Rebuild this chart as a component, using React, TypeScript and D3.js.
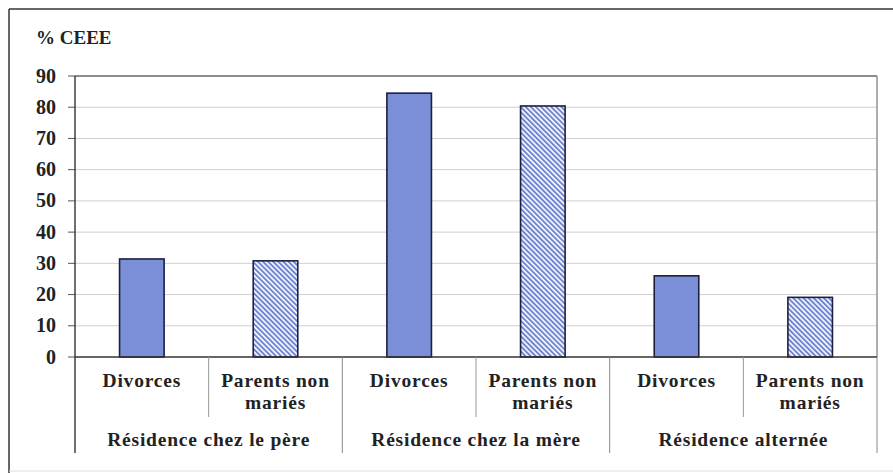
import React from "react";
import * as d3 from "d3";

const groups = ["Résidence chez le père", "Résidence chez la mère", "Résidence alternée"];
const series = ["Divorces", "Parents non mariés"];
const seriesLines = [["Divorces"], ["Parents non", "mariés"]];
const values = [
  [31.4, 84.5, 26.0],
  [30.8, 80.4, 19.1],
];
const yTicks = [0, 10, 20, 30, 40, 50, 60, 70, 80, 90];
const yTitle = "% CEEE";

const W = 893, H = 473;
const L = 75, R = 877, T = 76, B = 357;
const FONT = "'Liberation Serif', 'Times New Roman', serif";
const TXT = "#222";

export default function App() {
  const y = d3.scaleLinear().domain([0, 90]).range([B, T]);
  const cats = groups.flatMap((g, gi) => series.map((s, si) => `${gi}-${si}`));
  const x = d3.scaleBand().domain(cats).range([L, R]).paddingInner(0).paddingOuter(0);
  const gx = d3.scaleBand().domain(groups).range([L, R]);
  const bw = x.bandwidth() / 3;

  return (
    <svg width={W} height={H} style={{ position: "absolute", left: 0, top: 0, background: "#fff" }}>
      <defs>
        <pattern id="hatch" width={3.6} height={10} patternUnits="userSpaceOnUse" patternTransform="rotate(-45)">
          <rect width={3.6} height={10} fill="#fff" />
          <rect width={2} height={10} fill="#6f84d2" />
        </pattern>
      </defs>
      <rect x={0} y={0} width={W} height={H} fill="#fff" />
      {/* outer frame */}
      <line x1={9} y1={9} x2={W} y2={9} stroke="#333" strokeWidth={1.5} />
      <line x1={9} y1={9} x2={9} y2={H} stroke="#333" strokeWidth={1.5} />
      <line x1={9} y1={471} x2={W} y2={471} stroke="#ddd" strokeWidth={1} />

      <text x={36} y={44} fontFamily={FONT} fontWeight="bold" fontSize={19} fill={TXT}>{yTitle}</text>

      {/* gridlines */}
      {yTicks.filter(t => t > 0 && t < 90).map(t => (
        <line key={t} x1={L} x2={R} y1={y(t)} y2={y(t)} stroke="#cfcfcf" strokeWidth={1} />
      ))}
      {/* plot border top/right */}
      <line x1={L} x2={R} y1={y(90)} y2={y(90)} stroke="#666" strokeWidth={1.3} />
      <line x1={R} x2={R} y1={y(90)} y2={B} stroke="#777" strokeWidth={1.2} />

      {/* ticks and labels */}
      {yTicks.map(t => (
        <g key={t}>
          <line x1={68} x2={L} y1={y(t)} y2={y(t)} stroke="#555" strokeWidth={1} />
          <text x={56} y={y(t) + 6.6} textAnchor="end" fontFamily={FONT} fontWeight="bold" fontSize={20} fill={TXT}>{t}</text>
        </g>
      ))}

      {/* bars */}
      {groups.map((g, gi) => series.map((s, si) => {
        const key = `${gi}-${si}`;
        const cx = (x(key) as number) + x.bandwidth() / 2;
        const v = values[si][gi];
        return (
          <rect key={key} x={cx - bw / 2} y={y(v)} width={bw} height={B - y(v)}
            fill={si === 0 ? "#7b8fd8" : "url(#hatch)"} stroke="#1c2040" strokeWidth={1.6} />
        );
      }))}

      {/* axes */}
      <line x1={L} x2={L} y1={y(90)} y2={453} stroke="#333" strokeWidth={1.4} />
      <line x1={L} x2={R} y1={B} y2={B} stroke="#333" strokeWidth={1.6} />

      {/* separators */}
      {cats.map((c, i) => (i % 2 === 1 ? (
        <line key={"s" + c} x1={(x(c) as number)} x2={(x(c) as number)} y1={B} y2={417} stroke="#999" strokeWidth={1} />
      ) : null))}
      {groups.map((g, gi) => (
        <line key={"g" + g} x1={(gx(g) as number) + gx.bandwidth()} x2={(gx(g) as number) + gx.bandwidth()} y1={B} y2={453} stroke="#888" strokeWidth={1} />
      ))}

      {/* category labels */}
      {groups.map((g, gi) => series.map((s, si) => {
        const key = `${gi}-${si}`;
        const cx = (x(key) as number) + x.bandwidth() / 2;
        return (
          <text key={"l" + key} textAnchor="middle" fontFamily={FONT} fontWeight="bold" fontSize={19.5} letterSpacing={0.8} fill={TXT}>
            {seriesLines[si].map((ln, li) => (
              <tspan key={li} x={cx} y={387 + li * 22}>{ln}</tspan>
            ))}
          </text>
        );
      }))}
      {groups.map(g => (
        <text key={"gl" + g} x={(gx(g) as number) + gx.bandwidth() / 2} y={446} textAnchor="middle"
          fontFamily={FONT} fontWeight="bold" fontSize={19.5} letterSpacing={0.8} fill={TXT}>{g}</text>
      ))}
    </svg>
  );
}
